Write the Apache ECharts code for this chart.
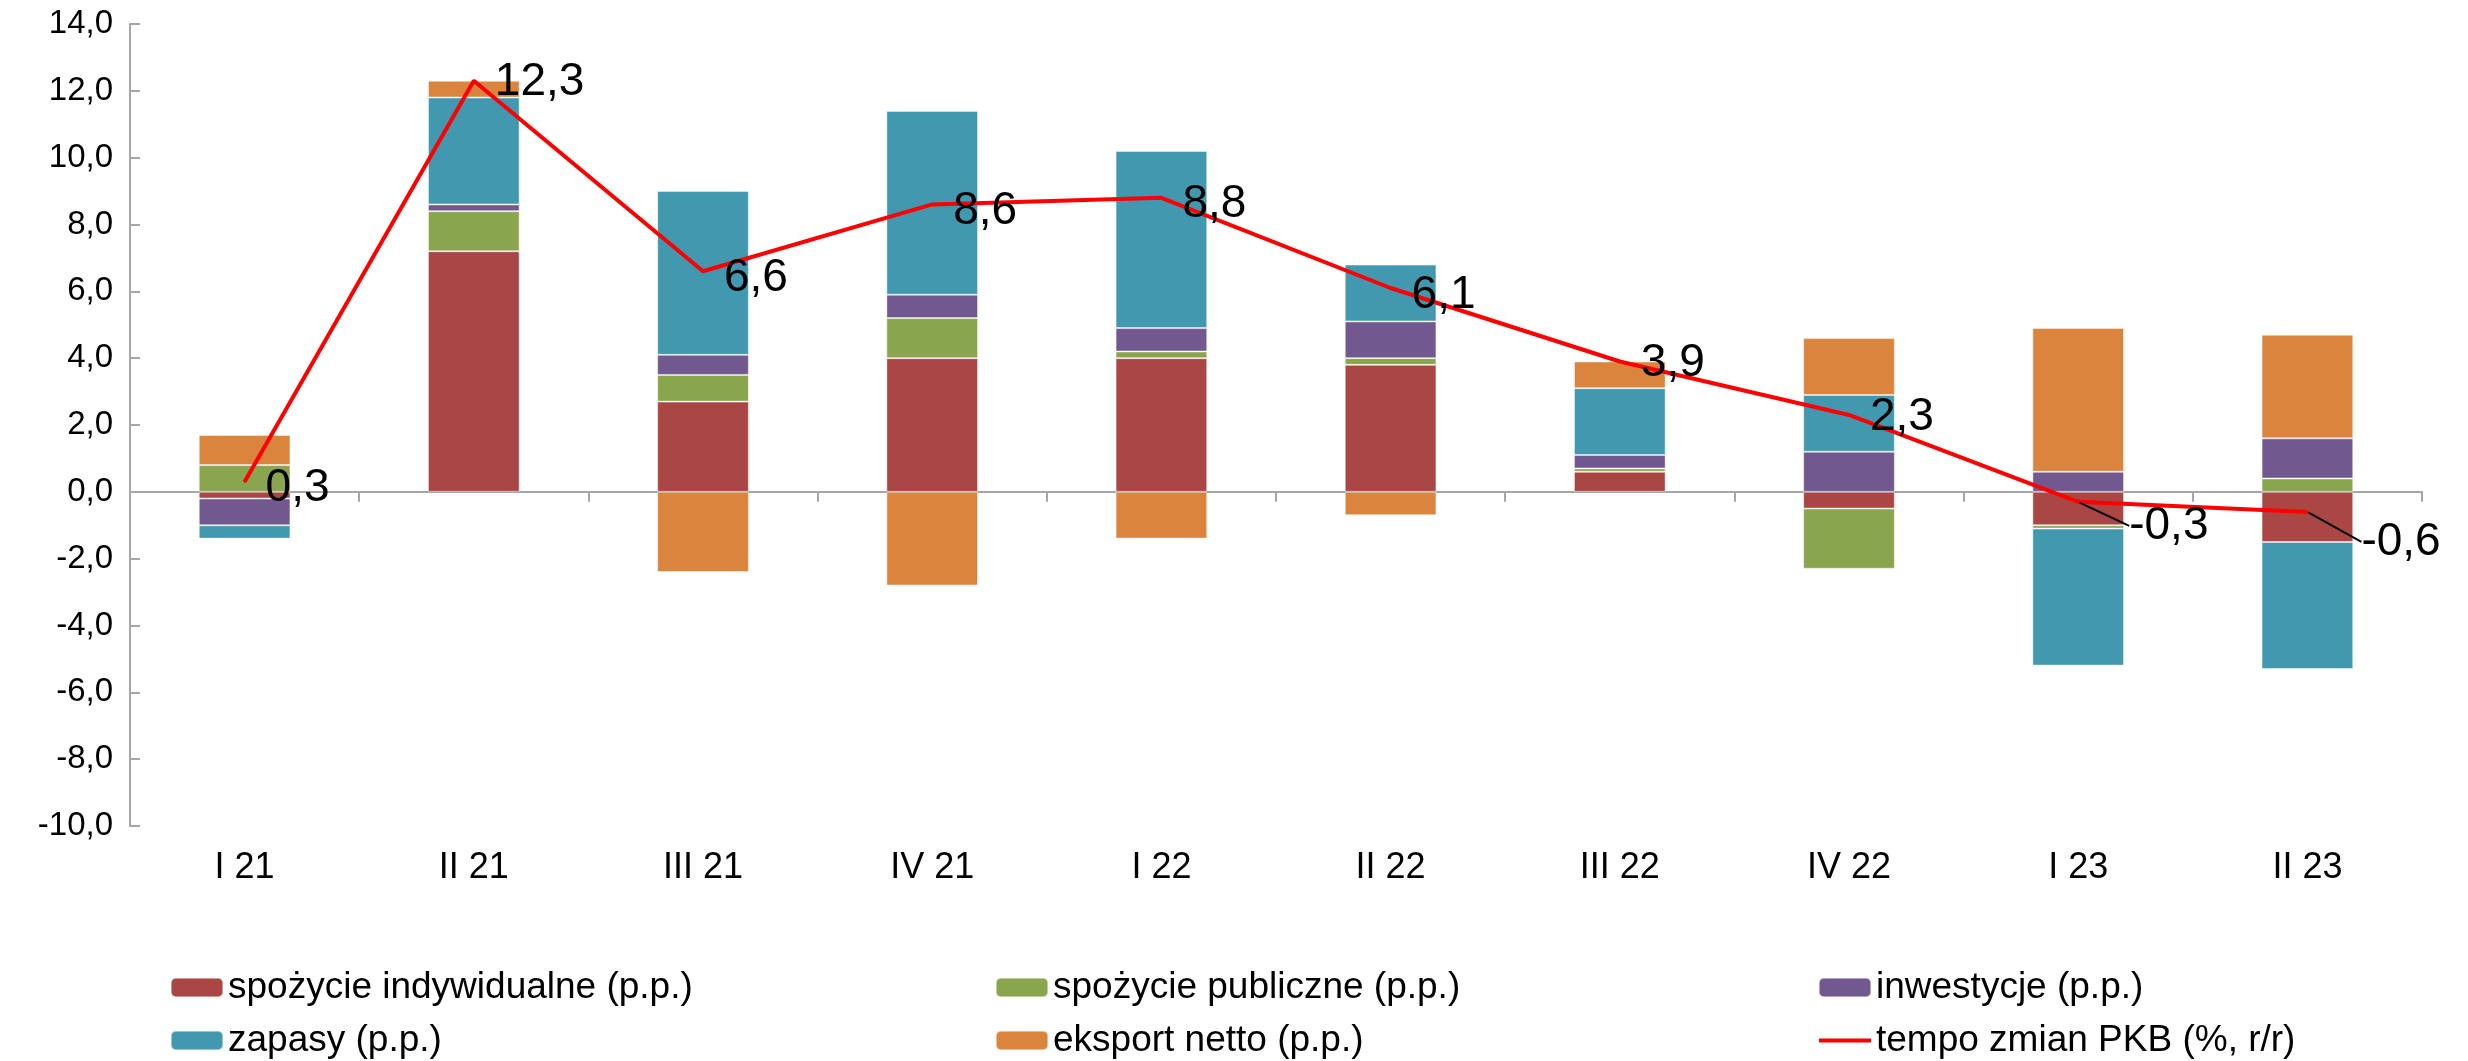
<!DOCTYPE html>
<html>
<head>
<meta charset="utf-8">
<script src="https://cdn.jsdelivr.net/npm/echarts@6/dist/echarts.min.js"></script>
<style>
html,body{margin:0;padding:0;background:#fff;}
#chart{width:2468px;height:1061px;}
</style>
</head>
<body>
<div id="chart"></div>
<script>
const categories = ['I 21','II 21','III 21','IV 21','I 22','II 22','III 22','IV 22','I 23','II 23'];
const spozycieInd = [-0.2, 7.2, 2.7, 4.0, 4.0, 3.8, 0.6, -0.5, -1.0, -1.5];
const spozyciePub = [0.8, 1.2, 0.8, 1.2, 0.2, 0.2, 0.1, -1.8, -0.1, 0.4];
const inwestycje  = [-0.8, 0.2, 0.6, 0.7, 0.7, 1.1, 0.4, 1.2, 0.6, 1.2];
const zapasy      = [-0.4, 3.2, 4.9, 5.5, 5.3, 1.7, 2.0, 1.7, -4.1, -3.8];
const eksport     = [0.9, 0.5, -2.4, -2.8, -1.4, -0.7, 0.8, 1.7, 4.3, 3.1];
const pkb         = [0.3, 12.3, 6.6, 8.6, 8.8, 6.1, 3.9, 2.3, -0.3, -0.6];
const yMin = -10, yMax = 14, yStep = 2;

const names = {
  ind: 'spożycie indywidualne (p.p.)',
  pub: 'spożycie publiczne (p.p.)',
  inw: 'inwestycje (p.p.)',
  zap: 'zapasy (p.p.)',
  eks: 'eksport netto (p.p.)',
  pkb: 'tempo zmian PKB (%, r/r)'
};
const colors = {ind:'#AA4643', pub:'#89A54E', inw:'#71588F', zap:'#4198AF', eks:'#DB843D', pkb:'#FF0000'};
const FONT = '"Liberation Sans", Arial, sans-serif';
const fmt = v => v.toFixed(1).replace('.', ',');

function barSeries(key, data){
  return {
    name: names[key], type: 'bar', stack: 'total', data: data,
    barCategoryGap: '60%',
    itemStyle: {color: colors[key], borderColor: 'rgba(255,255,255,0.45)', borderWidth: 1},
    emphasis: {disabled: true}
  };
}

const chart = echarts.init(document.getElementById('chart'), null, {renderer: 'canvas'});
const legendText = {fontSize: 37, color: '#000', fontFamily: FONT, lineHeight: 36};
function legendCol(left, items){
  return {
    orient: 'vertical', left: left, top: 969, padding: 0,
    itemWidth: 52, itemHeight: 19, itemGap: 16,
    textStyle: legendText, data: items, selectedMode: false
  };
}
chart.setOption({
  animation: false,
  backgroundColor: '#fff',
  grid: {left: 130, right: 46, top: 24, bottom: 235, containLabel: false},
  legend: [
    legendCol(170, [names.ind, names.zap]),
    legendCol(995, [names.pub, names.eks]),
    legendCol(1818, [names.inw, {name: names.pkb, icon: 'path://M0,0 L52,0 L52,4 L0,4 Z'}])
  ],
  xAxis: [
    {
      type: 'category', data: categories, position: 'bottom',
      axisLine: {show: false, onZero: false}, axisTick: {show: false},
      axisLabel: {fontSize: 36, color: '#000', fontFamily: FONT, margin: 24}
    },
    {
      type: 'category', data: categories, position: 'bottom',
      axisLine: {show: true, onZero: true, lineStyle: {color: '#A6A6A6', width: 2}},
      axisTick: {show: true, length: 10, lineStyle: {color: '#A6A6A6', width: 2}},
      axisLabel: {show: false}
    }
  ],
  yAxis: {
    type: 'value', min: yMin, max: yMax, interval: yStep,
    axisLine: {show: true, lineStyle: {color: '#A6A6A6', width: 2}},
    axisTick: {show: true, inside: true, length: 10, lineStyle: {color: '#A6A6A6', width: 2}},
    splitLine: {show: false},
    axisLabel: {fontSize: 33, color: '#000', fontFamily: FONT, margin: 17, formatter: v => fmt(v)}
  },
  series: [
    barSeries('ind', spozycieInd),
    barSeries('pub', spozyciePub),
    barSeries('inw', inwestycje),
    barSeries('zap', zapasy),
    barSeries('eks', eksport),
    {
      name: names.pkb, type: 'line', z: 5,
      data: pkb.map((v, i) => (i >= 8 ? {value: v, labelLine: {show: true}} : v)),
      symbol: 'circle', symbolSize: 2, showSymbol: true,
      lineStyle: {color: colors.pkb, width: 4},
      itemStyle: {color: colors.pkb},
      emphasis: {disabled: true},
      label: {
        show: true, position: 'right', distance: 20,
        fontSize: 46, color: '#000', fontFamily: FONT,
        formatter: p => fmt(p.value)
      },
      labelLine: {show: false, lineStyle: {color: '#000', width: 2}},
      labelLayout: function(params){
        if (params.dataIndex === 8) return {dx: 30, dy: 24};
        if (params.dataIndex === 9) return {dx: 33, dy: 30};
        if (params.dataIndex === 1 || params.dataIndex === 6 || params.dataIndex === 7) return {dy: 2};
        return {dy: 7};
      }
    }
  ]
});
</script>
</body>
</html>
